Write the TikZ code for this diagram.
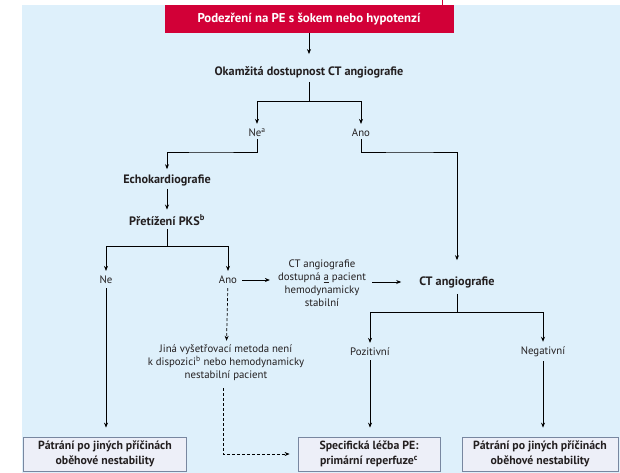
\documentclass[tikz,border=0pt]{standalone}
\usepackage{fontspec}
\setmainfont{PT Sans}
\usetikzlibrary{arrows.meta,calc}

\definecolor{bgblue}{RGB}{222,240,251}
\definecolor{pered}{RGB}{210,0,55}
\definecolor{boxfill}{RGB}{237,239,248}
\definecolor{boxline}{RGB}{120,135,160}
\definecolor{txt}{RGB}{35,31,32}

\tikzset{
  lbl/.style={inner sep=2pt, text=txt, font=\fontsize{10.8}{13}\selectfont, align=center},
  bold/.style={font=\fontsize{12.2}{14}\selectfont\bfseries},
  redbox/.style={fill=pered, text=white, minimum width=289pt, minimum height=28pt, font=\fontsize{12.8}{14}\selectfont\bfseries},
  endbox/.style={draw=boxline, fill=boxfill, line width=0.8pt, text=txt, align=center, font=\fontsize{11.8}{14.5}\selectfont\bfseries, minimum height=34pt},
  arr/.style={->, line width=0.7pt},
  darr/.style={->, line width=0.7pt, dash pattern=on 3pt off 2pt},
}

\begin{document}
\begin{tikzpicture}[x=1pt, y=-1pt, >={Stealth[length=5pt,width=4pt]}]

\useasboundingbox (0,0) rectangle (620,473);
\fill[white] (0,0) rectangle (620,473);
\fill[bgblue] (22,5) rectangle (620,473);
\draw[pered, line width=0.8pt] (442,0) -- (442,5);

% top part
\node[redbox] (start) at (309,19) {Podezření na PE s šokem nebo hypotenzí};
\node[lbl, bold] (avail) at (309,72) {Okamžitá dostupnost CT angiografie};
\node[lbl] (ne1) at (257,133) {Ne\textsuperscript{a}};
\node[lbl] (ano1) at (361,133) {Ano};

\draw[arr, shorten >=10pt] (start) -- (avail);
\coordinate (f1) at (309,101);
\draw[line width=0.7pt, shorten <=2pt] (avail) -- (f1);
\draw[arr, shorten >=3pt] (f1) -| (ne1);
\draw[arr, shorten >=3pt] (f1) -| (ano1);

% left branch
\node[lbl, bold] (echo) at (167,180) {Echokardiografie};
\node[lbl, bold] (pks) at (167,220) {Přetížení PKS\textsuperscript{b}};
\node[lbl] (ne2) at (106,280) {Ne};
\node[lbl] (ano2) at (228,280) {Ano};

\coordinate (f2) at (210,152);
\draw[arr, shorten >=3pt] (ne1) |- (f2) -| (echo);
\draw[arr, shorten <=1pt, shorten >=3pt] (echo) -- (pks);
\coordinate (f3) at (167,246);
\draw[line width=0.7pt, shorten <=2pt] (pks) -- (f3);
\draw[arr, shorten >=3pt] (f3) -| (ne2);
\draw[arr, shorten >=3pt] (f3) -| (ano2);

% CT branch
\node[lbl] (cond) at (322,283) {CT angiografie\\dostupná \underline{a} pacient\\hemodynamicky\\stabilní};
\node[lbl, bold] (cta) at (457,282) {CT angiografie};
\node[lbl] (pos) at (370,352) {Pozitivní};
\node[lbl] (neg) at (543,352) {Negativní};

\draw[arr, shorten <=3pt, shorten >=6pt] (ano2.east) -- (ano2.east -| cond.west);
\draw[arr, shorten <=4pt, shorten >=16pt] (cond.east |- cta) -- (cta);
\coordinate (f4) at (410,152);
\draw[arr, shorten >=14pt] (ano1) |- (f4) -| (cta);
\coordinate (f5) at (457,312);
\draw[line width=0.7pt, shorten <=4pt] (cta) -- (f5);
\draw[arr, shorten >=3pt] (f5) -| (pos);
\draw[arr, shorten >=3pt] (f5) -| (neg);

% dashed path
\node[lbl] (alt) at (226,363) {Jiná vyšetřovací metoda není\\k dispozici\textsuperscript{b} nebo hemodynamicky\\nestabilní pacient};
\draw[darr, shorten <=2pt, shorten >=2pt] (ano2) -- (alt);

% result boxes
\node[endbox, minimum width=163pt] (other1) at (105,454) {Pátrání po jiných příčinách\\oběhové nestability};
\node[endbox, minimum width=142pt] (treat) at (369,454) {Specifická léčba PE:\\primární reperfuze\textsuperscript{c}};
\node[endbox, minimum width=156pt] (other2) at (540,454) {Pátrání po jiných příčinách\\oběhové nestability};

\draw[arr, shorten <=2pt, shorten >=9pt] (ne2) -- (ne2 |- other1.north);
\draw[arr, shorten <=2pt, shorten >=9pt] (pos) -- (pos |- treat.north);
\draw[arr, shorten <=2pt, shorten >=9pt] (neg) -- (neg |- other2.north);
\draw[darr, shorten <=5pt, shorten >=8pt] ($(alt.south)+(-3,0)$) |- (treat.west);

\end{tikzpicture}
\end{document}
